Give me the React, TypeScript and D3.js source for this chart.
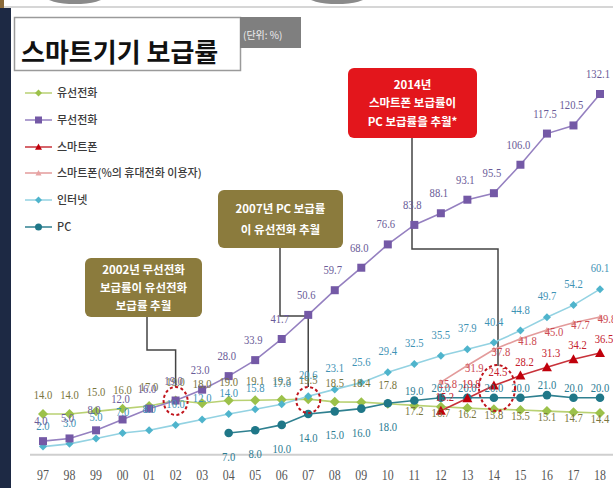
import React from 'react';
import * as d3 from 'd3';

const years = ['97','98','99','00','01','02','03','04','05','06','07','08','09','10','11','12','13','14','15','16','17','18'];
const fixedPhone: (number | null)[] = [14,14,15,16,17,19,18,19,19.1,19.3,19.5,18.5,18.4,17.8,17.2,16.7,16.2,15.8,15.5,15.1,14.7,14.4];
const mobilePhone: (number | null)[] = [4,5,8,12,16,19,23,28,33.9,41.7,50.6,59.7,68,76.6,83.8,88.1,93.1,95.5,106,117.5,120.5,132.1];
const smartphone: (number | null)[] = [null,null,null,null,null,null,null,null,null,null,null,null,null,null,null,15.2,19.8,24.5,28.2,31.3,34.2,36.5];
const smartphoneShare: (number | null)[] = [null,null,null,null,null,null,null,null,null,null,null,null,null,null,null,25.8,31.9,37.8,41.8,45.0,47.7,49.8];
const internet: (number | null)[] = [2,3,5,7,8,10,12,14,15.8,17.6,20.6,23.1,25.6,29.4,32.5,35.5,37.9,40.4,44.8,49.7,54.2,60.1];
const pc: (number | null)[] = [null,null,null,null,null,null,null,7,8,10,14,15,16,18,19,20,20,20,20,21,20,20];

const legendNames = ['유선전화','무선전화','스마트폰','스마트폰(%의 휴대전화 이용자)','인터넷','PC'];
const note2002 = ['2002년 무선전화','보급률이 유선전화','보급률 추월'];
const note2007 = ['2007년 PC 보급률','이 유선전화 추월'];
const note2014 = ['2014년','스마트폰 보급률이','PC 보급률을 추월*'];

type Marker = 'diamond' | 'square' | 'triangle' | 'smalltri' | 'circle';
interface Series {
  name: string; values: (number | null)[]; line: string; fill: string; label: string;
  marker: Marker; size: number; dx: number; dy: (i: number) => number;
}

const series: Series[] = [
  { name: legendNames[0], values: fixedPhone, line: '#b9d173', fill: '#9cc14a', label: '#7a763e', marker: 'diamond', size: 5, dx: 0, dy: (i) => (i <= 13 ? -15 : 10) },
  { name: legendNames[1], values: mobilePhone, line: '#9580c0', fill: '#7459a6', label: '#6a5b98', marker: 'square', size: 4, dx: -2, dy: () => -16 },
  { name: legendNames[2], values: smartphone, line: '#c8323a', fill: '#c0000b', label: '#c4202c', marker: 'triangle', size: 5, dx: 4, dy: () => -10 },
  { name: legendNames[3], values: smartphoneShare, line: '#e39b9b', fill: '#e7a3a3', label: '#cc4a52', marker: 'smalltri', size: 3, dx: 7, dy: () => 6 },
  { name: legendNames[4], values: internet, line: '#93d2e2', fill: '#4fb4cc', label: '#3f93b5', marker: 'diamond', size: 4, dx: 0, dy: () => -17 },
  { name: legendNames[5], values: pc, line: '#2f8090', fill: '#1f7788', label: '#2c7c93', marker: 'circle', size: 4.3, dx: 0, dy: (i) => (i <= 13 ? 28 : -6) },
];

const W = 613, H = 488;
const x = d3.scalePoint<string>().domain(years).range([43, 600]);
const y = d3.scaleLinear().domain([0, 140]).range([452, 72.6]);
const fmt = d3.format('.1f');
const numFont = '"Liberation Serif", "DejaVu Serif", serif';
const krFont = '"Noto Sans CJK KR", "Noto Sans", sans-serif';

function MarkerShape({ m, cx, cy, s, fill }: { m: Marker; cx: number; cy: number; s: number; fill: string }) {
  if (m === 'square') return <rect x={cx - s} y={cy - s} width={2 * s} height={2 * s} fill={fill} />;
  if (m === 'circle') return <circle cx={cx} cy={cy} r={s} fill={fill} />;
  if (m === 'diamond') return <path d={`M${cx},${cy - s}L${cx + s},${cy}L${cx},${cy + s}L${cx - s},${cy}Z`} fill={fill} />;
  return <path d={`M${cx},${cy - s}L${cx + s},${cy + s * 0.8}L${cx - s},${cy + s * 0.8}Z`} fill={fill} />;
}

function NoteBox({ x0, y0, w, h, lines, fill, lh, fs }: { x0: number; y0: number; w: number; h: number; lines: string[]; fill: string; lh: number; fs: number }) {
  const cx = x0 + w / 2;
  const start = y0 + h / 2 - ((lines.length - 1) * lh) / 2 + fs * 0.36;
  return (
    <g>
      <rect x={x0} y={y0} width={w} height={h} rx={6} fill={fill} />
      {lines.map((t, i) => (
        <text key={i} x={cx} y={start + i * lh} textAnchor="middle" fill="#fff" fontFamily={krFont} fontWeight={700} fontSize={fs}>{t}</text>
      ))}
    </g>
  );
}

export default function App() {
  const drawOrder = [0, 5, 4, 1, 3, 2];
  const legendY = [93, 120, 147, 173, 200, 227];
  return (
    <div style={{ position: 'fixed', left: 0, top: 0 }}>
      <svg width={W} height={H} viewBox={`0 0 ${W} ${H}`} style={{ display: 'block', background: '#fff' }}>
        {/* background decorations */}
        <rect x={0} y={0} width={W} height={H} fill="#fff" />
        <ellipse cx={75} cy={-4} rx={30} ry={8} fill="#8a8a8a" />
        <ellipse cx={337} cy={-4} rx={30} ry={8} fill="#8a8a8a" />
        <line x1={0} x2={W} y1={7} y2={7} stroke="#c8c8c8" strokeWidth={1.5} />
        <rect x={0} y={8} width={11} height={H - 8} fill="#1d2944" />
        <rect x={0} y={0} width={4} height={8} fill="#8a6a3a" />

        {/* title */}
        <rect x={14.5} y={17.5} width={226} height={53} fill="#fff" stroke="#9a9a9a" strokeWidth={1.5} />
        <text x={21} y={62} fontFamily={krFont} fontWeight={700} fontSize={26} fill="#111">스마트기기 보급률</text>
        <rect x={240} y={17} width={61} height={31} fill="#7f7f7f" />
        <text x={243} y={39} fontFamily={krFont} fontSize={10} fill="#eee">(단위: %)</text>

        {/* legend */}
        {series.map((s, i) => (
          <g key={s.name}>
            <line x1={25} x2={52} y1={legendY[i]} y2={legendY[i]} stroke={s.line} strokeWidth={1.5} />
            <MarkerShape m={s.marker} cx={38.5} cy={legendY[i]} s={Math.min(s.size, 3.5)} fill={s.fill} />
            <text x={57} y={legendY[i] + 4} fontFamily={krFont} fontWeight={500} fontSize={11} fill="#3a3a3a">{s.name}</text>
          </g>
        ))}

        {/* axis */}
        <line x1={30} x2={W} y1={y(-1)} y2={y(-1)} stroke="#cfcfcf" strokeWidth={2} />
        {years.map((yr) => (
          <text key={yr} transform={`translate(${x(yr)},480) scale(0.85,1)`} textAnchor="middle" fontFamily={numFont} fontSize={14} fill="#555">{yr}</text>
        ))}

        {/* annotation connectors */}
        <polyline points={`147,317 147,350 ${x('02')},350 ${x('02')},387`} fill="none" stroke="#444" strokeWidth={1.5} />
        <polyline points={`280,248 280,316 ${x('07')},316 ${x('07')},387`} fill="none" stroke="#444" strokeWidth={1.5} />
        <polyline points={`412,138 412,249 498,249 498,366`} fill="none" stroke="#444" strokeWidth={1.5} />

        {/* lines */}
        {drawOrder.map((k) => {
          const s = series[k];
          const gen = d3.line<number | null>()
            .defined((d) => d != null)
            .x((_, i) => x(years[i]) as number)
            .y((d) => y(d as number));
          return <path key={'l' + k} d={gen(s.values) || ''} fill="none" stroke={s.line} strokeWidth={1.6} />;
        })}
        {drawOrder.map((k) => {
          const s = series[k];
          return (
            <g key={'m' + k}>
              {s.values.map((v, i) => v == null ? null : (
                <MarkerShape key={i} m={s.marker} cx={x(years[i]) as number} cy={y(v)} s={s.size} fill={s.fill} />
              ))}
            </g>
          );
        })}
        {drawOrder.map((k) => {
          const s = series[k];
          return (
            <g key={'t' + k}>
              {s.values.map((v, i) => v == null ? null : (
                <text key={i} transform={`translate(${(x(years[i]) as number) + s.dx},${y(v) + s.dy(i)}) scale(0.85,1)`} textAnchor="middle" fontFamily={numFont} fontSize={12.5} fill={s.label}>{fmt(v)}</text>
              ))}
            </g>
          );
        })}

        {/* dashed highlight circles */}
        <ellipse cx={x('02')} cy={401} rx={12} ry={14} fill="none" stroke="#c0141c" strokeWidth={2} strokeDasharray="3,2.5" />
        <ellipse cx={x('07')} cy={400} rx={12} ry={13} fill="none" stroke="#c0141c" strokeWidth={2} strokeDasharray="3,2.5" />
        <ellipse cx={497} cy={388} rx={18} ry={23} fill="none" stroke="#c0141c" strokeWidth={2} strokeDasharray="3,2.5" />

        {/* annotation boxes */}
        <NoteBox x0={85} y0={258} w={117} h={59} lines={note2002} fill="#8b7b3d" lh={18} fs={11.5} />
        <NoteBox x0={218} y0={190} w={125} h={58} lines={note2007} fill="#8b7b3d" lh={21} fs={11.5} />
        <NoteBox x0={348} y0={68} w={129} h={70} lines={note2014} fill="#e3161c" lh={18.5} fs={11.5} />
      </svg>
    </div>
  );
}
